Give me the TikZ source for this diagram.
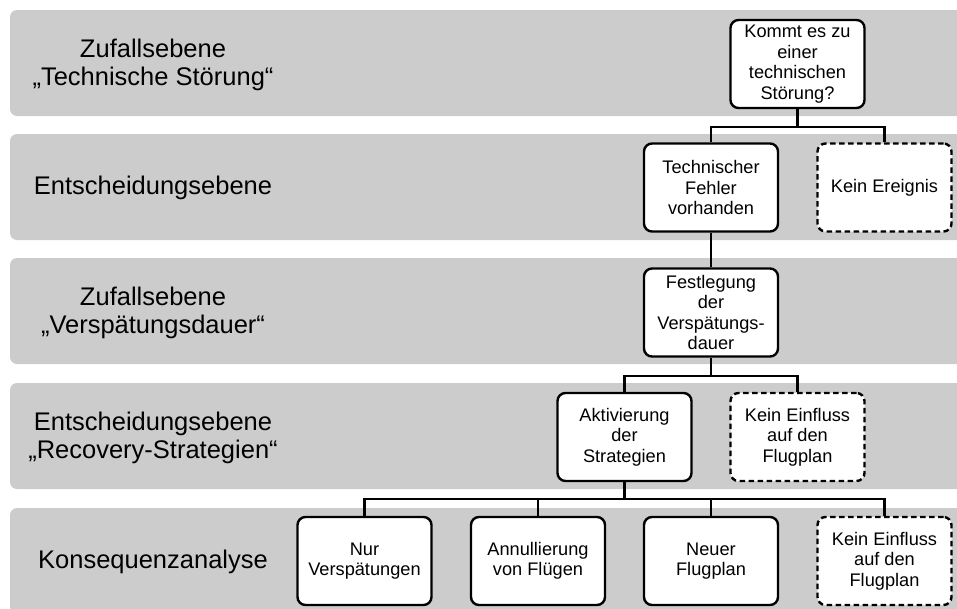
\documentclass[tikz,border=0pt]{standalone}
\usepackage{fontspec}
\setmainfont{Liberation Sans}
\definecolor{bandgray}{RGB}{204,204,204}

\begin{document}
\begin{tikzpicture}[x=1pt, y=-1pt, band/.style={fill=bandgray, rounded corners=7pt}, lvl/.style={align=center, font=\fontsize{25.5}{28}\selectfont}, main/.style={draw, fill=white, line width=2.4pt, rounded corners=8pt, minimum width=134pt, minimum height=88pt, inner sep=0pt, align=center, font=\fontsize{18.2}{20.5}\selectfont}, dmain/.style={main, dash pattern=on 5.5pt off 3.5pt}, n/.style={line width=2.4pt}]
                \clip (0,0) rectangle (957,608);
                % levels
                \foreach \t in {10,134,258,383,508}
                    \fill[band] (10,\t) rectangle (990,\t+106);
                \node[lvl] (l1) at (153,65) {Zufallsebene\\„Technische Störung“};
                \node[lvl] (l2) at (153,188) {Entscheidungsebene};
                \node[lvl] (l3) at (153,313) {Zufallsebene\\„Verspätungsdauer“};
                \node[lvl] (l4) at (153,438) {Entscheidungsebene\\„Recovery-Strategien“};
                \node[lvl] (l5) at (153,562) {Konsequenzanalyse};
                % nodes
                \node[main] (kommt) at (797.5,64) {Kommt es zu\\einer\\technischen\\Störung?};
                \node[main] (fehler) at (711,187.5) {Technischer\\Fehler\\vorhanden};
                \node[dmain] (kein) at (884.5,187.5) {Kein Ereignis};
                \node[main] (dauer) at (711,312.5) {Festlegung\\der\\Verspätungs-\\dauer};
                \node[main] (aktiv) at (624.5,437) {Aktivierung\\der\\Strategien};
                \node[dmain] (keinA) at (797.5,437) {Kein Einfluss\\auf den\\Flugplan};
                \node[main] (nur) at (364.5,561) {Nur\\Verspätungen};
                \node[main] (annul) at (538,561) {Annullierung\\von Flügen};
                \node[main] (neu) at (711,561) {Neuer\\Flugplan};
                \node[dmain] (keinB) at (884.5,561) {Kein Einfluss\\auf den\\Flugplan};
                % edges
                \draw[n] (kommt.south) -- ++(0,18) -| (fehler.north);
                \draw[n] (kommt.south) -- ++(0,18) -| (kein.north);
                \draw[n] (fehler) -- (dauer);
                \draw[n] (dauer.south) -- ++(0,18) -| (aktiv.north);
                \draw[n] (dauer.south) -- ++(0,18) -| (keinA.north);
                \foreach \c in {nur,annul,neu,keinB}
                    \draw[n] (aktiv.south) -- ++(0,17) -| (\c.north);
            \end{tikzpicture}
\end{document}
